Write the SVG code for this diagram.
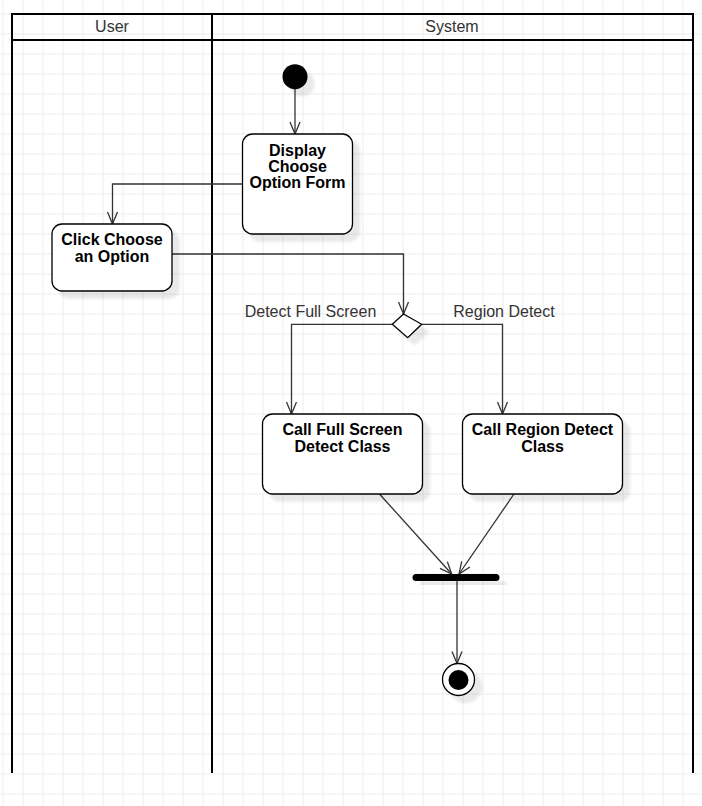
<svg xmlns="http://www.w3.org/2000/svg" width="702" height="806" viewBox="0 0 702 806">
<defs>
<pattern id="grid" x="2.5" y="13.5" width="20" height="20" patternUnits="userSpaceOnUse">
<path d="M0.5,0 V20 M0,0.5 H20" fill="none" stroke="#ececec" stroke-width="1"/>
</pattern>
<filter id="sh" x="-30%" y="-30%" width="180%" height="180%">
<feGaussianBlur in="SourceAlpha" stdDeviation="1.5"/>
<feOffset dx="7" dy="7"/>
<feComponentTransfer><feFuncA type="linear" slope="0.09"/></feComponentTransfer>
<feMerge><feMergeNode/><feMergeNode in="SourceGraphic"/></feMerge>
</filter>
<marker id="arr" viewBox="0 0 14 12" refX="13" refY="6" markerWidth="14" markerHeight="12" markerUnits="userSpaceOnUse" orient="auto">
<path d="M1,1 L13,6 L1,11" fill="none" stroke="#333" stroke-width="1.3"/>
</marker>
</defs>
<style>
.pool{stroke:#000;stroke-width:2;fill:none}
.hdr{font-family:"Liberation Sans",Arial,sans-serif;font-size:16px;fill:#333;text-anchor:middle}
.box{fill:#fff;stroke:#000;stroke-width:1.3}
.lbl{font-family:"Liberation Sans",Arial,sans-serif;font-size:16px;font-weight:bold;fill:#000;text-anchor:middle}
.edge{fill:none;stroke:#333;stroke-width:1.3;marker-end:url(#arr)}
.elbl{font-family:"Liberation Sans",Arial,sans-serif;font-size:16px;fill:#333;text-anchor:middle}
</style>
<rect x="0" y="0" width="702" height="806" fill="#fff"/>
<rect x="0" y="0" width="702" height="806" fill="url(#grid)"/>

<g id="pool">
<path class="pool" d="M12,14 H693 M12,40 H693 M12,13 V773 M212,14 V773 M693,13 V773"/>
<text class="hdr" x="112" y="31.5">User</text>
<text class="hdr" x="452" y="31.5">System</text>
</g>

<g id="edges">
<path class="edge" d="M295,89 V134"/>
<path class="edge" d="M242,184 H112.5 V224"/>
<path class="edge" d="M172,254 H403.5 V314"/>
<path class="edge" d="M392,324.3 H291.5 V414"/>
<path class="edge" d="M421.7,324.3 H502.5 V414"/>
<path class="edge" d="M379.5,494 L451.7,574"/>
<path class="edge" d="M514,494 L459,574"/>
<path class="edge" d="M457,581 V663.5"/>
<text class="elbl" x="310.5" y="316.7">Detect Full Screen</text>
<text class="elbl" x="504" y="316.7">Region Detect</text>
</g>

<g id="start">
<circle cx="295" cy="76.7" r="12.5" fill="#000" filter="url(#sh)"/>
</g>

<g id="display">
<rect class="box" x="242.5" y="134" width="110" height="100" rx="10" filter="url(#sh)"/>
<text class="lbl" x="297.5" y="155.5">Display</text>
<text class="lbl" x="297.5" y="171.8">Choose</text>
<text class="lbl" x="297.5" y="188">Option Form</text>
</g>

<g id="click">
<rect class="box" x="52" y="224" width="120" height="67" rx="10" filter="url(#sh)"/>
<text class="lbl" x="112" y="245.3">Click Choose</text>
<text class="lbl" x="112" y="261.7">an Option</text>
</g>

<g id="decision">
<polygon class="box" points="392.3,324.3 403.5,314 421.7,324.3 407.7,337.7" filter="url(#sh)"/>
</g>

<g id="fullscreen">
<rect class="box" x="262.5" y="414" width="160" height="80" rx="10" filter="url(#sh)"/>
<text class="lbl" x="342.5" y="435">Call Full Screen</text>
<text class="lbl" x="342.5" y="451.5">Detect Class</text>
</g>

<g id="region">
<rect class="box" x="462.5" y="414" width="160" height="80" rx="10" filter="url(#sh)"/>
<text class="lbl" x="542.5" y="435">Call Region Detect</text>
<text class="lbl" x="542.5" y="451.5">Class</text>
</g>

<g id="join">
<rect x="412.5" y="574" width="87" height="7" rx="3.5" fill="#000" filter="url(#sh)"/>
</g>

<g id="end">
<circle cx="458.5" cy="679.5" r="16" fill="#fff" stroke="#000" stroke-width="1.3" filter="url(#sh)"/>
<circle cx="458.5" cy="680" r="10" fill="#000"/>
</g>
</svg>
